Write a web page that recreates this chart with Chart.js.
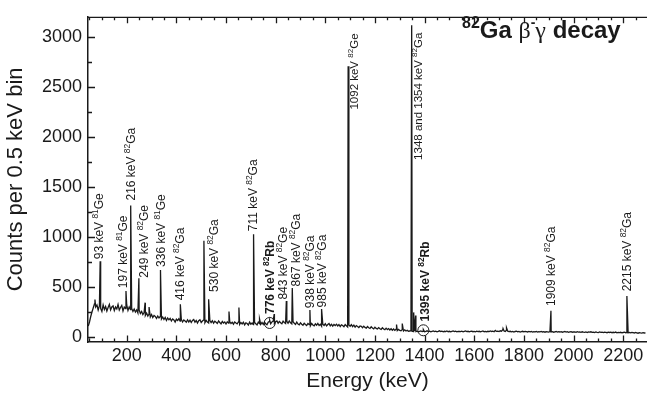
<!DOCTYPE html>
<html><head><meta charset="utf-8">
<script src="https://cdn.jsdelivr.net/npm/chart.js@4.4.1/dist/chart.umd.min.js"></script>
<style>html,body{margin:0;padding:0;background:#fff;overflow:hidden}canvas{display:block}</style>
</head><body>
<canvas id="c" width="647" height="399"></canvas>
<script>
// ---------- data ----------
const bgStartKeV = 45;
const bgStepKeV = 5;
const bgCounts = [
110,150,205,250,290,330,300,320,270,310,285,255,320,275,305,260,295,325,270,300,
310,265,300,280,325,270,295,315,260,300,285,320,265,300,275,285,255,280,250,270,
240,270,235,255,225,245,215,240,210,230,200,225,195,215,205,185,210,190,205,180,
200,175,195,165,190,172,185,160,180,170,150,178,165,182,158,175,150,170,160,148,
172,150,168,145,165,175,148,165,140,162,172,145,160,170,142,165,150,140,165,145,
162,138,158,148,135,160,145,132,155,140,150,130,152,138,155,135,148,128,150,140,
132,150,125,145,130,148,122,142,135,120,148,128,140,125,145,132,120,148,135,126,
145,125,150,132,122,148,155,132,150,158,135,152,160,138,155,142,132,158,145,135,
155,138,160,142,132,152,138,125,150,130,122,142,128,118,138,125,115,135,124,112,
135,120,112,132,118,136,115,128,108,128,115,132,110,124,134,112,126,108,125,114,
128,110,125,105,122,115,102,124,112,100,120,108,124,104,118,98,114,104,95,110,
106,92,108,96,88,104,92,85,102,90,82,98,86,80,94,82,76,92,80,74,
88,74,84,70,82,68,80,66,78,64,76,66,62,74,60,72,60,68,58,60,
62,58,55,60,54,58,52,56,60,54,58,52,56,62,55,58,52,56,60,54,
58,52,56,62,55,58,52,57,54,60,53,57,51,56,60,54,58,52,56,55,
53,58,52,56,60,54,57,51,55,59,53,56,52,58,54,57,51,55,60,53,
56,52,57,54,60,55,58,52,66,56,58,54,62,58,72,60,56,68,58,54,
57,52,56,50,55,58,52,56,50,54,57,51,55,53,50,56,52,55,50,54,
52,55,49,54,51,56,50,53,48,54,52,49,55,50,53,48,52,55,49,53,
50,54,48,52,55,49,53,47,51,54,48,52,50,46,53,49,51,47,52,49,
47,51,45,50,48,52,46,49,45,51,47,44,50,46,48,44,49,46,43,48,
45,48,43,47,44,49,42,46,44,47,42,45,48,43,46,42,45,41,46,43,
40,45,42,38,44,41,39,43,40,42
];
const peakEnergies = [72, 93, 197, 216, 249, 274, 290, 336, 416, 511, 530, 612, 652, 711, 735, 776, 794, 843, 867, 938, 985, 1092, 1287, 1310, 1348, 1356, 1364, 1395, 1716, 1730, 1909, 2215];
const peakCounts   = [375, 757, 460, 1315, 588, 343, 300, 669, 327, 962, 378, 255, 294, 1026, 181, 165, 230, 359, 489, 270, 280, 2705, 125, 135, 3115, 246, 214, 75, 85, 92, 263, 409];

const xTickValues = [200, 400, 600, 800, 1000, 1200, 1400, 1600, 1800, 2000, 2200];
const yTickValues = [0, 500, 1000, 1500, 2000, 2500, 3000];

const labelEnergies = [93, 197, 216, 249, 336, 416, 530, 711, 776, 843, 867, 938, 985, 1092, 1348, 1395, 1909, 2215];
const labelTexts    = ['93 keV ', '197 keV ', '216 keV ', '249 keV ', '336 keV ', '416 keV ', '530 keV ', '711 keV ', '776 keV ', '843 keV ', '867 keV ', '938 keV ', '985 keV ', '1092 keV ', '1348 and 1354 keV ', '1395 keV ', '1909 keV ', '2215 keV '];
const labelIsotopes = ['81', '81', '82', '82', '81', '82', '82', '82', '82', '82', '82', '82', '82', '82', '82', '82', '82', '82'];
const labelElements = ['Ge', 'Ge', 'Ga', 'Ge', 'Ge', 'Ga', 'Ga', 'Ga', 'Rb', 'Ge', 'Ga', 'Ga', 'Ga', 'Ge', 'Ga', 'Rb', 'Ga', 'Ga'];
const labelBold     = [false, false, false, false, false, false, false, false, true, false, false, false, false, false, false, true, false, false];
const labelBaseCounts = [777, 488, 1364, 593, 700, 366, 450, 1057, 230, 374, 505, 288, 296, 2273, 1770, 155, 310, 456];

const circleEnergies = [776, 1395];
const circleCounts = [140, 67];

// ---------- layout / style (not data) ----------
const labelDx   = [-1, -3, 0, 4.5, 0, -1, 4.6, -0.7, 0, -4, 3, 0, 0.5, 6, 5.8, 1.3, 0, 0];
const labelSize = [12, 12, 12, 12, 12, 12, 12, 12, 12, 12, 12, 12, 12, 11.5, 11.5, 12, 12, 12];
const SANS = '"Liberation Sans", Arial, Helvetica, sans-serif';
const INK = '#1a1a1a';

// ---------- build the series ----------
const points = bgCounts.map((c, i) => ({x: bgStartKeV + bgStepKeV * i, y: c}))
  .concat(peakEnergies.map((e, i) => ({x: e, y: peakCounts[i]})))
  .sort((a, b) => a.x - b.x);

function drawRotLabel(ctx, px, py, main, iso, el, bold, size) {
  ctx.save();
  ctx.translate(px, py);
  ctx.rotate(-Math.PI / 2);
  const w = bold ? 'bold ' : '';
  const base = size * 0.36;
  ctx.fillStyle = INK;
  ctx.textBaseline = 'alphabetic';
  ctx.textAlign = 'left';
  ctx.font = w + size + 'px ' + SANS;
  ctx.fillText(main, 0, base);
  let xo = ctx.measureText(main).width;
  const ss = size * 0.7;
  ctx.font = w + ss + 'px ' + SANS;
  ctx.fillText(iso, xo, base - size * 0.42);
  xo += ctx.measureText(iso).width;
  ctx.font = w + size + 'px ' + SANS;
  ctx.fillText(el, xo, base);
  ctx.restore();
}

const decorations = {
  id: 'decorations',
  afterDatasetsDraw(chart) {
    const {ctx, chartArea: a, scales: {x, y}} = chart;
    ctx.save();
    ctx.strokeStyle = INK;
    ctx.lineWidth = 1.3;
    ctx.beginPath();
    ctx.moveTo(a.left, a.top + 0.5); ctx.lineTo(a.right, a.top + 0.5);
    for (let v = 50; v <= x.max; v += 50) {
      const px = Math.round(x.getPixelForValue(v)) + 0.5;
      if (px < a.left || px > a.right) continue;
      const len = xTickValues.includes(v) ? 6.5 : 3.5;
      ctx.moveTo(px, a.bottom); ctx.lineTo(px, a.bottom - len);
      ctx.moveTo(px, a.top); ctx.lineTo(px, a.top + len);
    }
    for (let v = 0; v <= y.max; v += 250) {
      const py = Math.round(y.getPixelForValue(v)) + 0.5;
      const len = yTickValues.includes(v) ? 7 : 4;
      ctx.moveTo(a.left, py); ctx.lineTo(a.left + len, py);
    }
    ctx.stroke();
    ctx.lineWidth = 1;
    circleEnergies.forEach((e, i) => {
      ctx.beginPath();
      ctx.arc(x.getPixelForValue(e), y.getPixelForValue(circleCounts[i]), 5.5, 0, Math.PI * 2);
      ctx.stroke();
    });
    labelEnergies.forEach((e, i) => {
      drawRotLabel(ctx, x.getPixelForValue(e) + labelDx[i], y.getPixelForValue(labelBaseCounts[i]),
        labelTexts[i], labelIsotopes[i], labelElements[i], labelBold[i], labelSize[i]);
    });
    let tx = 462, ty = 38;
    ctx.fillStyle = INK;
    ctx.textBaseline = 'alphabetic';
    ctx.textAlign = 'left';
    const part = (t, font, dy) => { ctx.font = font; ctx.fillText(t, tx, ty + dy); tx += ctx.measureText(t).width; };
    part('82', 'bold 16px ' + SANS, -10);
    part('Ga ', 'bold 24px ' + SANS, 0);
    part('\u03B2', '24px "Liberation Serif", "DejaVu Serif", serif', 0);
    part('-', 'bold 14px ' + SANS, -11);
    part('\u03B3', '24px "Liberation Serif", "DejaVu Serif", serif', 0);
    part(' decay', 'bold 24px ' + SANS, 0);
    ctx.restore();
  }
};

new Chart(document.getElementById('c'), {
  type: 'line',
  data: {
    datasets: [{
      data: points,
      borderColor: INK,
      borderWidth: 1.3,
      pointRadius: 0,
      tension: 0,
      fill: false
    }]
  },
  options: {
    responsive: false,
    devicePixelRatio: 1,
    animation: false,
    parsing: false,
    layout: {padding: {top: 8, right: 0, left: 0, bottom: 0}},
    plugins: {legend: {display: false}, tooltip: {enabled: false}},
    scales: {
      x: {
        type: 'linear',
        min: 44, max: 2296,
        afterBuildTicks: s => { s.ticks = xTickValues.map(v => ({value: v})); },
        afterFit: s => { s.height = 57; },
        grid: {display: false, drawTicks: false},
        border: {display: true, color: INK, width: 1.5},
        ticks: {color: INK, padding: 3, font: {family: SANS, size: 18}, maxRotation: 0, autoSkip: false, callback: v => String(v)},
        title: {display: true, text: 'Energy (keV)', color: INK, font: {family: SANS, size: 21}, padding: {top: 0, bottom: 5}}
      },
      y: {
        type: 'linear',
        min: -50, max: 3200,
        afterBuildTicks: s => { s.ticks = yTickValues.map(v => ({value: v})); },
        afterFit: s => { s.width = 88; },
        grid: {display: false, drawTicks: false},
        border: {display: true, color: INK, width: 1.5},
        ticks: {color: INK, padding: 6, font: {family: SANS, size: 18}, autoSkip: false, callback: v => String(v)},
        title: {display: true, text: 'Counts per 0.5 keV bin', color: INK, font: {family: SANS, size: 22}, padding: {top: 3, bottom: 0}}
      }
    }
  },
  plugins: [decorations]
});
</script>
</body></html>
